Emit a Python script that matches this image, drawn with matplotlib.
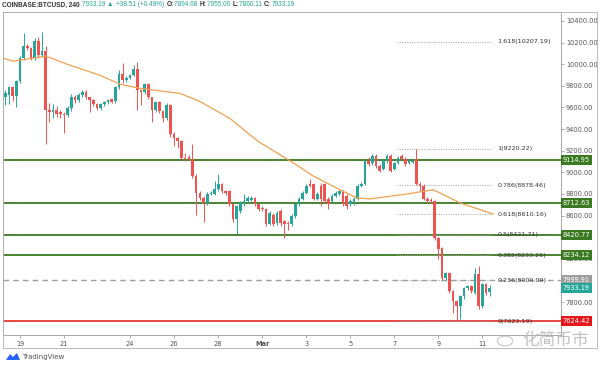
import matplotlib.pyplot as plt
import matplotlib.transforms as mtransforms
from matplotlib.patches import Polygon, Circle, Rectangle

# 4h candles, first one = Feb 18 08:00
opens = [9693, 9712, 9786, 9703, 9842, 10056, 10168, 10149, 10056, 10214,
         10084, 10121, 9572, 9554, 9572, 9554, 9544, 9526, 9591, 9693,
         9665, 9712, 9740, 9693, 9665, 9628, 9591, 9628, 9647, 9675,
         9656, 9786, 9907, 9851, 9870, 9898, 9954, 9758, 9740, 9814,
         9693, 9572, 9647, 9563, 9498, 9619, 9358, 9321, 9293, 9135,
         9145, 9126, 8968, 8810, 8763, 8717, 8800, 8800, 8847, 8893,
         8828, 8828, 8707, 8568, 8642, 8707, 8735, 8745, 8763, 8707,
         8670, 8661, 8521, 8605, 8531, 8642, 8549, 8531, 8521, 8596,
         8707, 8754, 8810, 8893, 8893, 8754, 8875, 8893, 8754, 8735,
         8782, 8800, 8828, 8782, 8707, 8717, 8754, 8875, 8893, 9107,
         9089, 9154, 9061, 9033, 9107, 9154, 9033, 9089, 9154, 9126,
         9089, 9098, 9126, 8893, 8875, 8754, 8745, 8735, 8391, 8298,
         8019, 8066, 7898, 7805, 7759, 7852, 7926, 7945, 7880, 8056,
         7759, 7963, 7895]
highs = [9760, 9800, 9800, 9850, 10080, 10288, 10186, 10160, 10242, 10251,
         10298, 10168, 9637, 9628, 9609, 9580, 9560, 9610, 9721, 9712,
         9730, 9758, 9758, 9700, 9675, 9640, 9640, 9660, 9680, 9690,
         9800, 9944, 10009, 9890, 9910, 9991, 10019, 9770, 9830, 9830,
         9700, 9660, 9660, 9575, 9637, 9630, 9370, 9330, 9300, 9182,
         9160, 9265, 8980, 8830, 8780, 8820, 8830, 8921, 8986, 8900,
         8840, 8840, 8720, 8700, 8730, 8800, 8780, 8780, 8775, 8720,
         8690, 8670, 8640, 8620, 8640, 8660, 8560, 8545, 8610, 8720,
         8770, 8830, 8893, 8940, 8903, 8820, 8903, 8903, 8770, 8800,
         8830, 8840, 8840, 8800, 8750, 8770, 8890, 8910, 9120, 9140,
         9170, 9170, 9075, 9120, 9170, 9170, 9100, 9150, 9170, 9140,
         9120, 9120, 9220, 8910, 8890, 8770, 8760, 8745, 8400, 8310,
         8080, 8080, 7910, 7820, 7865, 7940, 7960, 7960, 8112, 8130,
         7980, 7975, 7955]
lows = [9620, 9630, 9660, 9600, 9830, 10040, 10130, 10037, 10040, 10060,
        10070, 9265, 9461, 9500, 9516, 9498, 9368, 9510, 9570, 9640,
        9650, 9700, 9680, 9554, 9610, 9580, 9580, 9615, 9635, 9640,
        9645, 9770, 9830, 9840, 9860, 9890, 9572, 9619, 9720, 9680,
        9461, 9560, 9550, 9461, 9480, 9330, 9247, 9228, 9120, 9107,
        9110, 8950, 8605, 8740, 8540, 8700, 8790, 8790, 8830, 8810,
        8790, 8690, 8540, 8428, 8620, 8690, 8720, 8730, 8690, 8640,
        8640, 8500, 8510, 8500, 8510, 8500, 8391, 8470, 8505, 8580,
        8690, 8740, 8800, 8860, 8740, 8740, 8690, 8720, 8661, 8720,
        8770, 8790, 8690, 8660, 8690, 8700, 8740, 8860, 8880, 9060,
        9070, 9040, 9000, 9020, 9090, 9000, 9020, 9075, 9110, 9060,
        9075, 9085, 8880, 8828, 8740, 8720, 8720, 8370, 8200, 8000,
        7990, 7880, 7700, 7623, 7640, 7830, 7910, 7885, 7870, 7740,
        7745, 7865, 7860]
closes = [9730, 9786, 9703, 9842, 10056, 10168, 10149, 10056, 10214, 10084,
          10121, 9572, 9554, 9572, 9544, 9535, 9526, 9591, 9693, 9665,
          9712, 9740, 9693, 9665, 9628, 9591, 9628, 9647, 9665, 9647,
          9786, 9907, 9851, 9870, 9898, 9954, 9758, 9740, 9814, 9693,
          9572, 9647, 9563, 9498, 9619, 9358, 9321, 9293, 9135, 9126,
          9126, 8968, 8810, 8763, 8717, 8800, 8810, 8847, 8893, 8828,
          8810, 8707, 8568, 8689, 8717, 8735, 8763, 8763, 8707, 8661,
          8661, 8521, 8624, 8521, 8624, 8531, 8521, 8521, 8596, 8707,
          8754, 8810, 8875, 8875, 8754, 8800, 8754, 8735, 8707, 8782,
          8810, 8828, 8707, 8689, 8735, 8754, 8875, 8893, 9107, 9079,
          9154, 9061, 9014, 9107, 9154, 9014, 9089, 9135, 9126, 9079,
          9107, 9107, 8893, 8875, 8754, 8735, 8735, 8391, 8289, 8019,
          8066, 7898, 7805, 7759, 7852, 7926, 7945, 7898, 8056, 7759,
          7963, 7880, 7933]

# moving average, read at points (candle index, price)
ma_idx = [-0.6, 2.1, 7.5, 11.1, 16.8, 25.8, 31.3, 36.7, 47.6, 53, 61.2, 68.6,
          73, 78.4, 83.8, 91.2, 95.8, 99.4, 109.5, 116.5, 118.4, 123.9, 132.9]
ma_vals = [10056, 10028, 10056, 10075, 10000, 9898, 9814, 9777, 9730, 9656, 9498, 9293,
           9200, 9089, 8968, 8838, 8763, 8754, 8800, 8838, 8810, 8717, 8614]

green_levels = [9114.95, 8712.63, 8420.77, 8234.12]
red_level = 7624.42
gray_level = 7999.91
last_price = 7933.19

fib_ratios = ["1.618", "1", "0.786", "0.618", "0.5", "0.382", "0.236", "0"]
fib_prices = [10207.19, 9220.22, 8878.46, 8610.16, 8421.71, 8233.26, 8000.09, 7623.19]

# axis labels that are not hidden behind a price tag
y_ticks = [7800, 8200, 8600, 8800, 9000, 9200, 9400, 9600, 9800, 10000, 10200, 10400]

date_pos = [4, 16, 34, 46, 58, 70, 82, 94, 106, 118, 130]
date_lbl = ["19", "21", "24", "26", "28", "Mar", "3", "5", "7", "9", "11"]

UP = "#26a69a"
DOWN = "#ef5350"
LGREEN = "#3c7a22"

fig = plt.figure(figsize=(6, 3.69), dpi=100)
ax = fig.add_axes([3 / 600, 1 - 335 / 369, 558 / 600, 323 / 369])

for i in range(len(opens)):
    o, h, l, c = opens[i], highs[i], lows[i], closes[i]
    col = UP if c >= o else DOWN
    ax.vlines(i, l, h, color=col, lw=0.7, zorder=3)
    ax.bar(i, max(abs(c - o), 8), bottom=min(o, c), width=0.72, color=col, zorder=4)

ax.plot(ma_idx, ma_vals, color="#f0a050", lw=0.9, zorder=5)

for lv in green_levels:
    ax.axhline(lv, color=LGREEN, lw=1.3, zorder=2)
ax.axhline(red_level, color="#e53935", lw=1.3, zorder=2)
ax.axhline(gray_level, color="#9e9e9e", lw=1.0, dashes=(4, 3), zorder=2)

for r, p in zip(fib_ratios, fib_prices):
    ax.plot([106.7, 132.6], [p, p], color="#a0a0a0", lw=0.7, ls=(0, (1, 1.5)), zorder=2)
    ax.text(134.0, p, f"{r}({p:.2f})", fontsize=4.6, color="#333333",
            va="center", ha="left", zorder=6)

ax.set_xlim(-0.63, 151.4)
ax.set_ylim(7495, 10483)

ax.yaxis.tick_right()
ax.set_yticks(y_ticks)
ax.set_yticklabels([f"{v}.00" for v in y_ticks])
ax.tick_params(axis="y", labelsize=4.8, labelcolor="#555555", length=2, width=0.5,
               color="#888888", pad=1.5)
ax.set_xticks(date_pos)
ax.set_xticklabels(date_lbl)
ax.tick_params(axis="x", labelsize=4.8, labelcolor="#555555", length=2, width=0.5,
               color="#888888", pad=2.5)
for lbl in ax.get_xticklabels():
    if lbl.get_text() == "Mar":
        lbl.set_fontweight("bold")
for s in ax.spines.values():
    s.set_color("#9a9a9a")
    s.set_linewidth(0.6)

# price tags on the right axis
trans = mtransforms.blended_transform_factory(ax.transAxes, ax.transData)
tags = [(v, LGREEN) for v in green_levels] + [(gray_level, "#9e9e9e"),
                                              (last_price, UP), (red_level, "#e8151b")]
for v, col in tags:
    ax.text(1.003, v, f"{v:.2f}", transform=trans, fontsize=4.8, color="white",
            va="center", ha="left", zorder=10, clip_on=False,
            bbox=dict(boxstyle="square,pad=0.3", fc=col, ec="none"))

# outer frame
fig.patches.append(Rectangle((3 / 600, 1 - 348 / 369), 594 / 600, 336 / 369,
                             transform=fig.transFigure, fill=False,
                             ec="#b0b0b0", lw=0.6))

# header, pieces placed one after another
hy = 1 - 5 / 369
dark = "#333333"
parts = [("COINBASE:BTCUSD, 240 ", dark, "bold"),
         ("7933.19 ", UP, "normal"),
         ("\u25b2 ", UP, "normal"),
         ("+38.51 (+0.49%) ", UP, "normal"),
         ("O:", dark, "bold"), ("7894.68 ", UP, "normal"),
         ("H:", dark, "bold"), ("7955.00 ", UP, "normal"),
         ("L:", dark, "bold"), ("7860.11 ", UP, "normal"),
         ("C:", dark, "bold"), ("7933.19", UP, "normal")]
renderer = fig.canvas.get_renderer()
px = 2
for t, col, wt in parts:
    tx = fig.text(px / 600, hy, t, fontsize=4.7, color=col, fontweight=wt,
                  va="center", ha="left", family=["Liberation Sans", "DejaVu Sans"])
    px += tx.get_window_extent(renderer).width + 0.5

# TradingView logo
fig.patches.append(Polygon([(6 / 600, 1 - 360 / 369), (10 / 600, 1 - 354 / 369),
                            (13 / 600, 1 - 357 / 369), (17 / 600, 1 - 353 / 369),
                            (20 / 600, 1 - 360 / 369)],
                           closed=True, transform=fig.transFigure, fc="#2962ff", ec="none"))
fig.text(22 / 600, 1 - 357 / 369, "TradingView", fontsize=5, color="#555555",
         va="center", ha="left")

# watermark
fig.patches.append(Circle((505 / 600, 1 - 341 / 369), 0.013, transform=fig.transFigure,
                          fill=False, ec="#c8c8c8", lw=0.8))
fig.text(522 / 600, 1 - 341 / 369, "化简币市", fontsize=12, color="#c0c0c0",
         va="center", ha="left", family=["Noto Sans CJK SC", "DejaVu Sans"])

fig.savefig("out.png", dpi=100)
